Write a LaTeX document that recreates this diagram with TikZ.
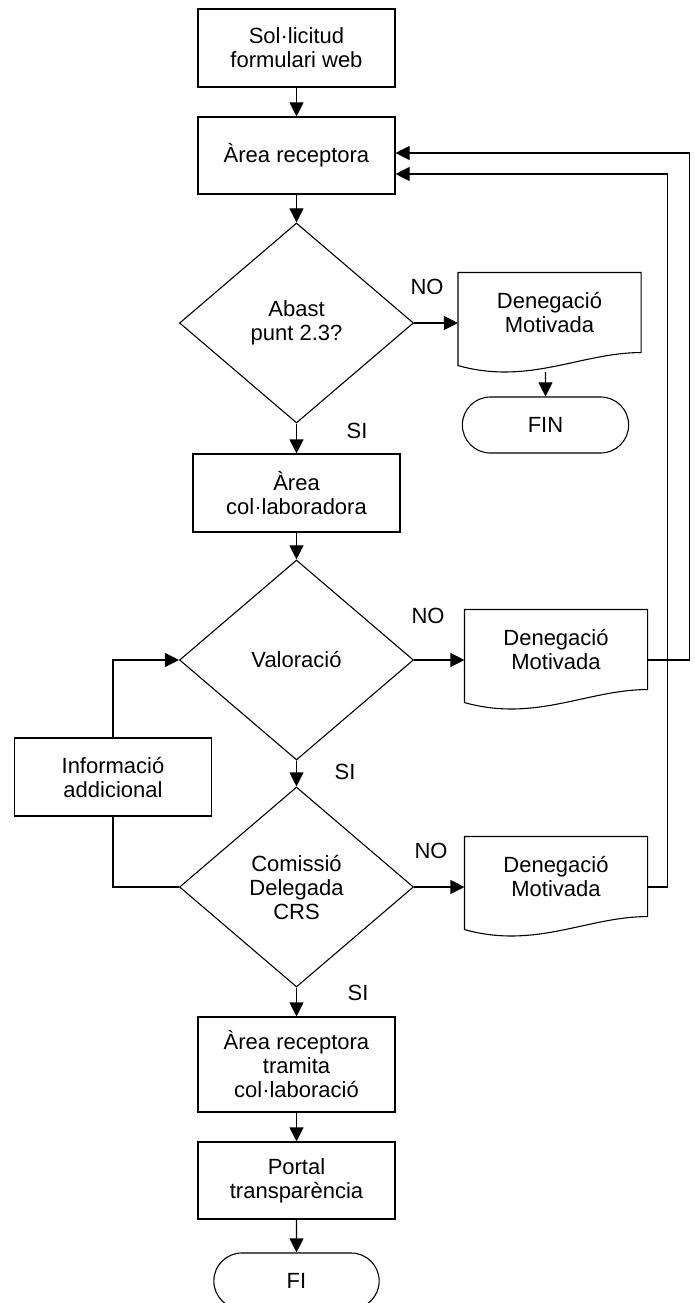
\documentclass[tikz,border=0pt]{standalone}
\usepackage{fontspec}
\setmainfont{Liberation Sans}
\usetikzlibrary{positioning,arrows.meta,shapes.geometric,shapes.misc}

\begin{document}
\begin{tikzpicture}[x=1pt,y=1pt,on grid,line width=1.1pt,
   >={Triangle[length=14pt,width=14pt]},
   font=\fontsize{22}{24}\selectfont,
   box/.style={draw,rectangle,minimum width=197pt,minimum height=78pt,align=center,inner sep=2pt},
   decision/.style={draw,diamond,minimum width=234pt,minimum height=200pt,align=center,inner sep=0pt},
   doc/.style={rectangle,minimum width=182pt,minimum height=79pt,align=center},
   terminal/.style={draw,rounded rectangle,minimum width=173pt,minimum height=56pt}]
   \useasboundingbox (0,0) rectangle (694,-1303);
   \node[box] (sol) at (296.5,-48) {Sol·licitud\\formulari web};
   \node[box,minimum height=77pt] (ar) [below=107.5pt of sol] {Àrea receptora};
   \node[decision] (abast) [below=167.5pt of ar] {Abast\\punt 2.3?};
   \node[box,minimum width=207pt] (ac) [below=170pt of abast] {Àrea\\col·laboradora};
   \node[decision] (val) [below=167pt of ac] {Valoració};
   \node[decision] (com) [below=227pt of val] {Comissió\\Delegada\\CRS};
   \node[box,minimum height=95pt] (art) [below=177.5pt of com] {Àrea receptora\\tramita\\col·laboració};
   \node[box,minimum height=77pt] (port) [below=116pt of art] {Portal\\transparència};
   \node[terminal,minimum width=172pt] (fi) [below=100.5pt of port] {FI};
   \node[doc] (den1) [above right=10.5pt and 253pt of abast] {Denegació\\Motivada};
   \node[terminal] (fin) [below=112.5pt of den1,xshift=-4pt] {FIN};
   \node[doc] (den2) [above right=10.5pt and 259.5pt of val] {Denegació\\Motivada};
   \node[doc] (den3) [above right=10.5pt and 259.5pt of com] {Denegació\\Motivada};
   \node[box] (info) [below left=117pt and 183.5pt of val] {Informació\\addicional};
   \node (no1) [above right=36pt and 130.5pt of abast] {NO};
   \node (si1) [below right=108pt and 60.5pt of abast] {SI};
   \node (no2) [above right=44pt and 131.5pt of val] {NO};
   \node (si2) [below right=112pt and 48.5pt of val] {SI};
   \node (no3) [above right=36pt and 134.5pt of com] {NO};
   \node (si3) [below right=106pt and 61.5pt of com] {SI};
   \foreach \d in {den1,den2,den3}
     \draw (\d.north west) -- (\d.north east) -- (\d.south east)
       .. controls ([xshift=-60pt]\d.south east) and ([shift={(71pt,-33pt)}]\d.south west)
       .. ([yshift=-13pt]\d.south west) -- cycle;
    \path[->]
    (sol) edge (ar)
    (ar) edge (abast)
    (abast) edge (ac)
    (ac) edge (val)
    (val) edge (com)
    (com) edge (art)
    (art) edge (port)
    (port) edge (fi)
    (abast.east) edge (abast.east -| den1.west)
    (val.east) edge (val.east -| den2.west)
    (com.east) edge (com.east -| den3.west)
    ([yshift=-19.5pt]den1.south -| fin.north) edge (fin);
   \draw[->] (info.north) |- (val.west);
   \draw (com.west) -| (info.south);
   \draw[->] (val.east -| den2.east) -- ++(42,0) |- ([yshift=2.5pt]ar.east);
   \draw[->] (com.east -| den3.east) -- ++(20,0) |- ([yshift=-18.5pt]ar.east);
\end{tikzpicture}
\end{document}
